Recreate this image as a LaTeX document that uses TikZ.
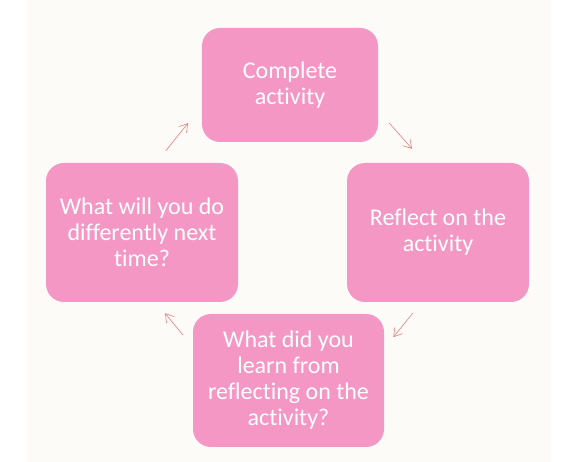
\documentclass[tikz,border=0pt]{standalone}
\usepackage{fontspec}
\setmainfont{Carlito}[Ligatures=NoCommon]
\usepackage{tikz}
\usetikzlibrary{arrows.meta}

\definecolor{cream}{RGB}{253,251,247}
\definecolor{stagepink}{RGB}{244,151,196}
\definecolor{arrowred}{RGB}{238,125,125}

\begin{document}
\begin{tikzpicture}[
    x=1pt, y=1pt,
    stage/.style={rectangle, fill=stagepink, text=white, align=center, rounded corners=18pt, inner sep=0pt, font=\fontsize{24}{26}\selectfont},
    arrow/.style={-{Straight Barb[length=8pt, width=10pt]}, draw=arrowred, line width=0.6pt}
]

% Background
\fill[white] (0,0) rectangle (579,462);
\fill[cream] (27,0) rectangle (551,462);

% Stages
\node[stage, minimum width=176pt, minimum height=114pt] (complete) at (290,377) {Complete\\activity};
\node[stage, minimum width=182pt, minimum height=139pt] (reflect) at (438,229.5) {Reflect on the\\activity};
\node[stage, minimum width=191pt, minimum height=133pt] (learn) at (288.5,81.5) {What did you\\learn from\\reflecting on the\\activity?};
\node[stage, minimum width=192pt, minimum height=139pt] (next) at (142,229.5) {What will you do\\differently next\\time?};

% Arrows
\draw[arrow, shorten <=16.6pt, shorten >=18.7pt] ([yshift=-25.6pt]complete.east) -- ([xshift=-13.6pt]reflect.north);
\draw[arrow, shorten <=14pt, shorten >=14.5pt] ([xshift=-16.3pt]reflect.south) -- ([yshift=32.1pt]learn.east);
\draw[arrow, shorten <=15.8pt, shorten >=14.2pt] ([yshift=33.3pt]learn.west) -- ([xshift=14pt]next.south);
\draw[arrow, shorten <=15.6pt, shorten >=22pt] ([xshift=14.1pt]next.north) -- ([yshift=-21pt]complete.west);

\end{tikzpicture}
\end{document}
